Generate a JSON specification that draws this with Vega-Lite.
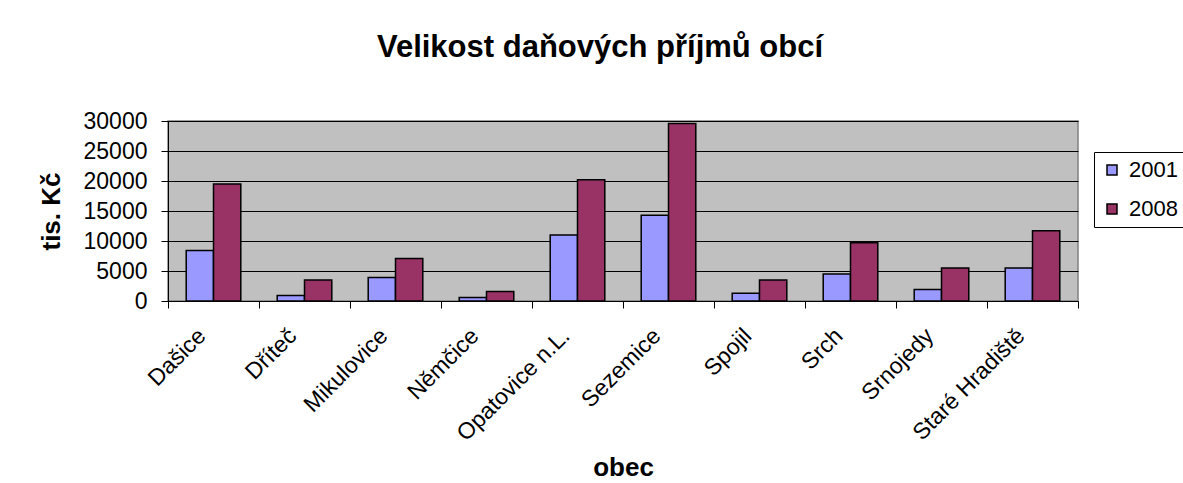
{
  "$schema": "https://vega.github.io/schema/vega-lite/v6.json",
  "autosize": "none",
  "width": 910,
  "height": 180,
  "padding": {"left": 168, "top": 121, "right": 105, "bottom": 182},
  "background": "white",
  "title": {
    "text": "Velikost daňových příjmů obcí",
    "font": "Liberation Sans",
    "fontSize": 31,
    "fontWeight": "bold",
    "color": "black",
    "anchor": "middle",
    "frame": "group",
    "dx": -23,
    "offset": 46
  },
  "data": {
    "values": [
      {"obec": "Dašice", "rok": "2001", "hodnota": 8400},
      {"obec": "Dašice", "rok": "2008", "hodnota": 19500},
      {"obec": "Dříteč", "rok": "2001", "hodnota": 900},
      {"obec": "Dříteč", "rok": "2008", "hodnota": 3500},
      {"obec": "Mikulovice", "rok": "2001", "hodnota": 3900},
      {"obec": "Mikulovice", "rok": "2008", "hodnota": 7100},
      {"obec": "Němčice", "rok": "2001", "hodnota": 600},
      {"obec": "Němčice", "rok": "2008", "hodnota": 1600},
      {"obec": "Opatovice n.L.", "rok": "2001", "hodnota": 11000},
      {"obec": "Opatovice n.L.", "rok": "2008", "hodnota": 20200},
      {"obec": "Sezemice", "rok": "2001", "hodnota": 14300},
      {"obec": "Sezemice", "rok": "2008", "hodnota": 29600},
      {"obec": "Spojil", "rok": "2001", "hodnota": 1300},
      {"obec": "Spojil", "rok": "2008", "hodnota": 3500},
      {"obec": "Srch", "rok": "2001", "hodnota": 4500},
      {"obec": "Srch", "rok": "2008", "hodnota": 9700},
      {"obec": "Srnojedy", "rok": "2001", "hodnota": 1900},
      {"obec": "Srnojedy", "rok": "2008", "hodnota": 5500},
      {"obec": "Staré Hradiště", "rok": "2001", "hodnota": 5500},
      {"obec": "Staré Hradiště", "rok": "2008", "hodnota": 11700}
    ]
  },
  "mark": {"type": "bar", "stroke": "black", "strokeWidth": 1.5},
  "encoding": {
    "x": {
      "field": "obec",
      "type": "nominal",
      "sort": null,
      "scale": {"paddingInner": 0, "paddingOuter": 0},
      "axis": {
        "title": "obec",
        "titleFont": "Liberation Sans",
        "titleFontSize": 26,
        "titleFontWeight": "bold",
        "titleColor": "black",
        "titleX": 455,
        "titleY": 174,
        "titleBaseline": "alphabetic",
        "labelFont": "Liberation Sans",
        "labelFontSize": 23,
        "labelColor": "black",
        "labelAngle": -45,
        "labelAlign": "right",
        "labelBaseline": "middle",
        "labelPadding": 24,
        "labelOffset": -12,
        "tickBand": "extent",
        "tickSize": 7,
        "tickColor": "black",
        "domainColor": "black",
        "grid": false
      }
    },
    "xOffset": {
      "field": "rok",
      "type": "nominal",
      "scale": {"paddingInner": 0, "paddingOuter": 0.667}
    },
    "y": {
      "field": "hodnota",
      "type": "quantitative",
      "scale": {"domain": [0, 30000], "nice": false},
      "axis": {
        "title": "tis. Kč",
        "titleFont": "Liberation Sans",
        "titleFontSize": 26,
        "titleFontWeight": "bold",
        "titleColor": "black",
        "titleX": -117,
        "titleY": 90,
        "titleBaseline": "middle",
        "titleAlign": "center",
        "values": [0, 5000, 10000, 15000, 20000, 25000, 30000],
        "format": "d",
        "labelFont": "Liberation Sans",
        "labelFontSize": 23,
        "labelColor": "black",
        "labelPadding": 14,
        "tickSize": 7,
        "tickColor": "black",
        "domainColor": "black",
        "grid": true,
        "gridColor": "black",
        "gridOpacity": 1,
        "gridWidth": 1
      }
    },
    "color": {
      "field": "rok",
      "type": "nominal",
      "scale": {"domain": ["2001", "2008"], "range": ["#9999FF", "#993366"]},
      "legend": {
        "title": null,
        "orient": "none",
        "legendX": 926,
        "legendY": 31,
        "strokeColor": "black",
        "fillColor": "white",
        "padding": 7,
        "symbolType": "square",
        "symbolSize": 100,
        "symbolStrokeColor": "black",
        "symbolStrokeWidth": 1.5,
        "symbolOpacity": 1,
        "labelFont": "Liberation Sans",
        "labelFontSize": 22,
        "labelColor": "black",
        "labelOffset": 6,
        "rowPadding": 17
      }
    }
  },
  "config": {
    "view": {"fill": "#C0C0C0", "stroke": "#808080", "strokeWidth": 1.5}
  }
}
